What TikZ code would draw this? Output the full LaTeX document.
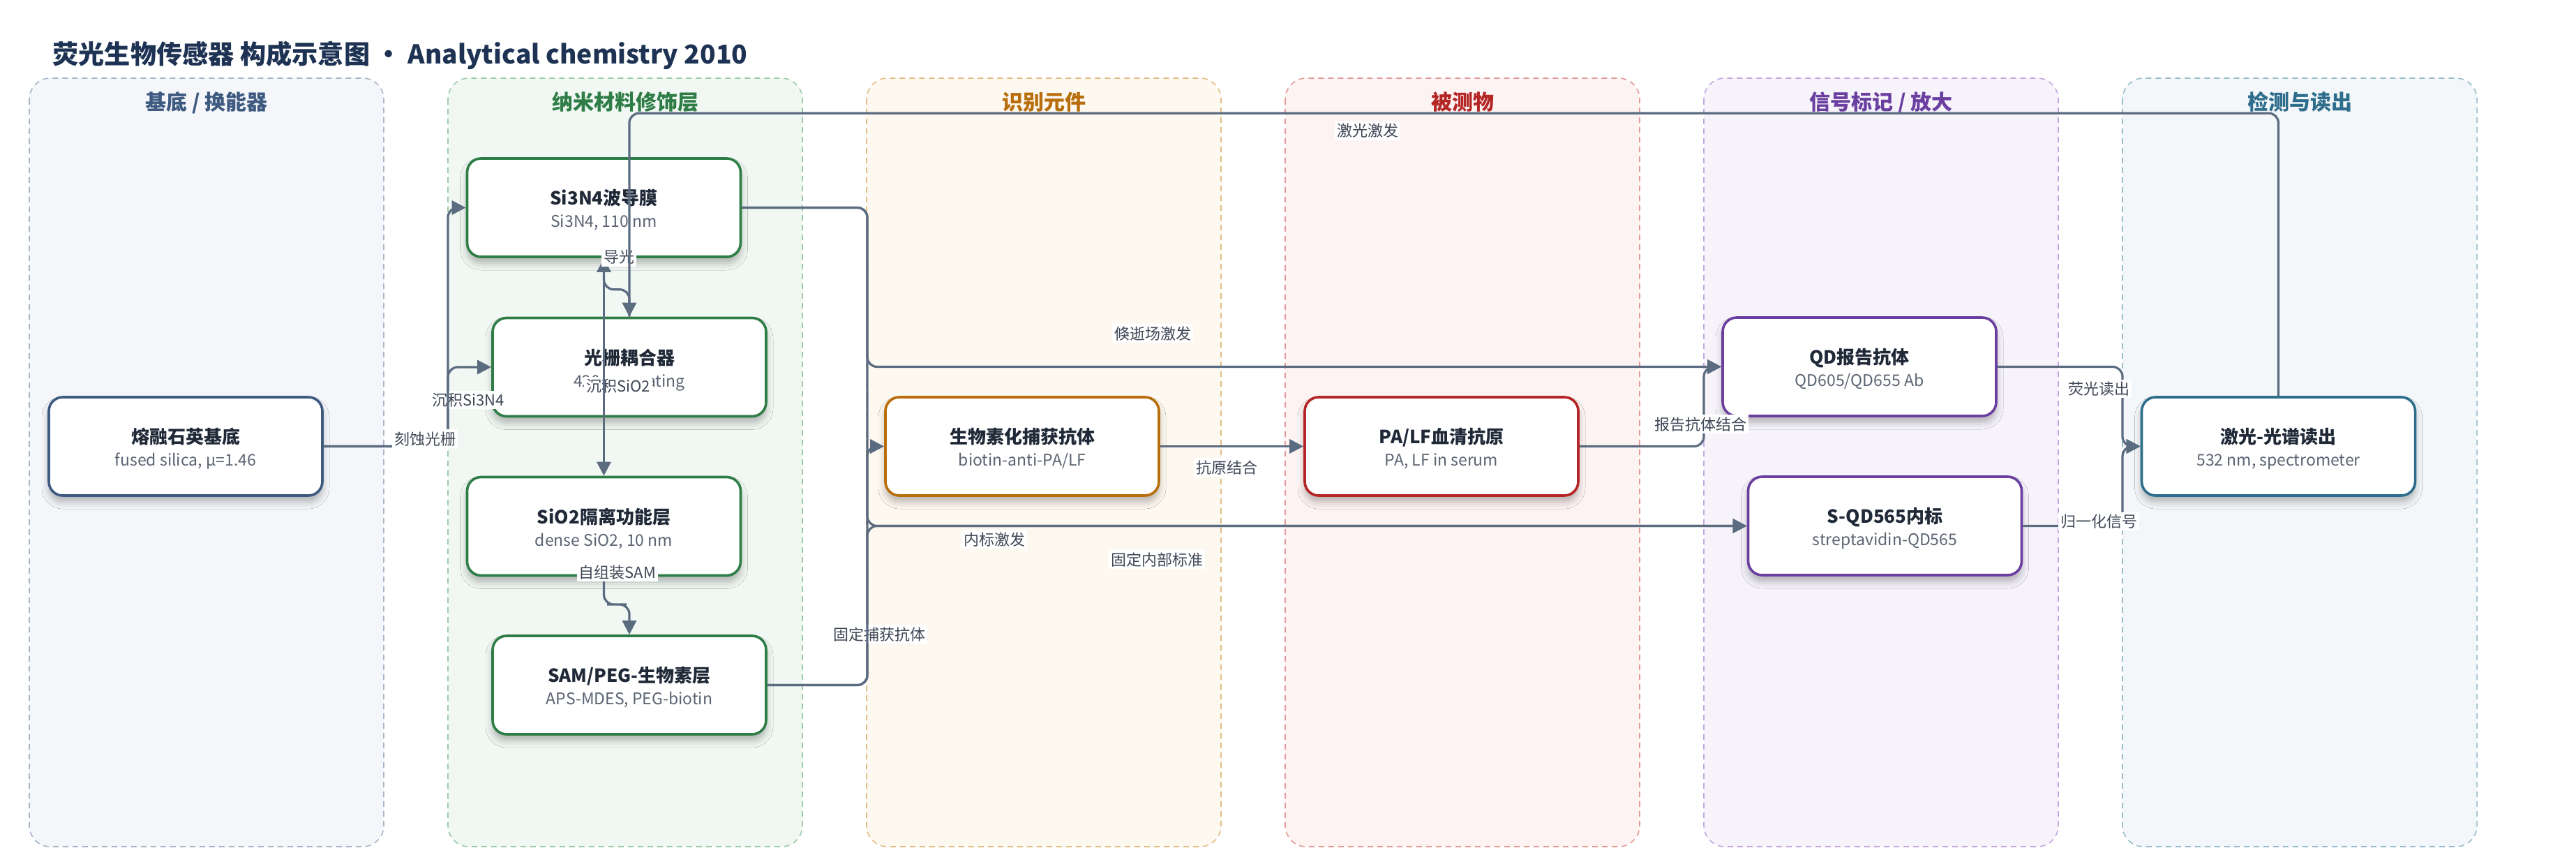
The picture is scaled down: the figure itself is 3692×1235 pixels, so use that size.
\documentclass[tikz,border=0pt]{standalone}
\usepackage{fontspec}
\setmainfont{Noto Sans CJK SC}
\usetikzlibrary{arrows.meta,shadows.blur}
\definecolor{edgecol}{HTML}{5B6B80}
\definecolor{titlecol}{HTML}{1F2937}
\definecolor{subcol}{HTML}{5B6472}
\definecolor{labcol}{HTML}{3F4856}
\definecolor{maintitle}{HTML}{1E3354}
\definecolor{l1f}{HTML}{F4F6FA}\definecolor{l1d}{HTML}{A8B5C8}\definecolor{l1h}{HTML}{3E5A80}
\definecolor{l2f}{HTML}{F1F8F3}\definecolor{l2d}{HTML}{9CCBAA}\definecolor{l2h}{HTML}{2E7D46}
\definecolor{l3f}{HTML}{FDF8F0}\definecolor{l3d}{HTML}{E3BD84}\definecolor{l3h}{HTML}{B86E0A}
\definecolor{l4f}{HTML}{FDF3F2}\definecolor{l4d}{HTML}{E39A96}\definecolor{l4h}{HTML}{B42525}
\definecolor{l5f}{HTML}{F6F3FB}\definecolor{l5d}{HTML}{C3A8E0}\definecolor{l5h}{HTML}{6B3FA0}
\definecolor{l6f}{HTML}{F3F7F9}\definecolor{l6d}{HTML}{98BCCB}\definecolor{l6h}{HTML}{2E6E8C}
\tikzset{
  lane/.style={rounded corners=15pt, dash pattern=on 4pt off 3pt, line width=0.8pt},
  lanehead/.style={font=\fontsize{15}{18}\selectfont\bfseries, anchor=base, inner sep=0pt},
  box/.style={rounded corners=10pt, fill=white, line width=1.8pt, minimum width=196pt,
    minimum height=70.5pt, inner sep=0pt,
    blur shadow={shadow xshift=0pt, shadow yshift=-4.5pt, shadow blur radius=5pt, shadow opacity=28}},
  btitle/.style={font=\fontsize{13}{15}\selectfont\bfseries, text=titlecol, anchor=base, inner sep=0pt},
  bsub/.style={font=\fontsize{11.5}{14}\selectfont, text=subcol, anchor=base, inner sep=0pt},
  conn/.style={draw=edgecol, line width=1.6pt, rounded corners=7pt, -{Triangle[length=10pt,width=10pt]}},
  elabel/.style={font=\fontsize{11}{13}\selectfont, text=labcol, fill=white, inner sep=1.5pt, anchor=base},
}
\newcommand\bxnode[6]{%
  \node[box, draw=#4] (#1) at (#2,#3) {};
  \node[btitle] (#1-t) at (#2,#3-4) {#5};
  \node[bsub] (#1-s) at (#2,#3+28) {#6};
}
\begin{document}
\begin{tikzpicture}[x=0.5pt,y=-0.5pt]
\useasboundingbox (0,0) rectangle (3692,1235);
\fill[white] (0,0) rectangle (3692,1235);
% lanes
\draw[lane, draw=l1d, fill=l1f] (42,112) rectangle (550,1213);
\draw[lane, draw=l2d, fill=l2f] (642,112) rectangle (1150,1213);
\draw[lane, draw=l3d, fill=l3f] (1242,112) rectangle (1750,1213);
\draw[lane, draw=l4d, fill=l4f] (1842,112) rectangle (2350,1213);
\draw[lane, draw=l5d, fill=l5f] (2442,112) rectangle (2950,1213);
\draw[lane, draw=l6d, fill=l6f] (3042,112) rectangle (3550,1213);
\node[lanehead, text=l1h] (h1) at (296,158) {基底 / 换能器};
\node[lanehead, text=l2h] (h2) at (896,158) {纳米材料修饰层};
\node[lanehead, text=l3h] (h3) at (1496,158) {识别元件};
\node[lanehead, text=l4h] (h4) at (2096,158) {被测物};
\node[lanehead, text=l5h] (h5) at (2696,158) {信号标记 / 放大};
\node[lanehead, text=l6h] (h6) at (3296,158) {检测与读出};
% title
\node[anchor=base west, inner sep=0pt, font=\fontsize{18.6}{23}\selectfont\bfseries, text=maintitle] (title) at (75,92) {荧光生物传感器 构成示意图 · Analytical chemistry 2010};
% boxes
\bxnode{sub}{266}{639.5}{l1h}{熔融石英基底}{fused silica, µ=1.46}
\bxnode{si}{865.5}{297.5}{l2h}{Si3N4波导膜}{Si3N4, 110 nm}
\bxnode{gr}{902}{526}{l2h}{光栅耦合器}{420 nm grating}
\bxnode{sio}{865.5}{754}{l2h}{SiO2隔离功能层}{dense SiO2, 10 nm}
\bxnode{sam}{902}{981.5}{l2h}{SAM/PEG-生物素层}{APS-MDES, PEG-biotin}
\bxnode{cap}{1465}{639.5}{l3h}{生物素化捕获抗体}{biotin-anti-PA/LF}
\bxnode{pa}{2066}{639.5}{l4h}{PA/LF血清抗原}{PA, LF in serum}
\bxnode{qd}{2665}{525.5}{l5h}{QD报告抗体}{QD605/QD655 Ab}
\bxnode{sqd}{2701.5}{753.5}{l5h}{S-QD565内标}{streptavidin-QD565}
\bxnode{ro}{3265.5}{639.5}{l6h}{激光-光谱读出}{532 nm, spectrometer}
% connectors
\draw[conn] (sub.east) -| (642,297.5) -- (si.west);
\node[elabel] (e1) at (671,581) {沉积Si3N4};
\draw[conn] (sub.east) -| (642,526) -- (gr.west);
\node[elabel] (e2) at (609,637) {刻蚀光栅};
\node[elabel] (e3) at (886,561) {沉积SiO2};
\draw[conn] (si.south) -- (sio.north);
\draw[conn] (gr.north) -- ++(0,-39) -| (si.south);
\node[elabel] (e4) at (887,377) {导光};
\draw[conn] (sio.south) |- (884,866) -| (sam.north);
\node[elabel] (e5) at (885,828) {自组装SAM};
\draw[conn] (sam.east) -| (1243,639.5) -- (cap.west);
\node[elabel] (e6) at (1260,917) {固定捕获抗体};
\draw[conn] (sam.east) -| (1243,753.5) -- (sqd.west);
\node[elabel] (e7) at (1658,810) {固定内部标准};
\draw[conn] (si.east) -| (1243,525.5) -- (qd.west);
\node[elabel] (e8) at (1652,486) {倏逝场激发};
\draw[conn] (si.east) -| (1243,753.5) -- (sqd.west);
\node[elabel] (e9) at (1425,781) {内标激发};
\draw[conn] (cap.east) -- (pa.west);
\node[elabel] (e10) at (1758,678) {抗原结合};
\draw[conn] (pa.east) -| (2442,525.5) -- (qd.west);
\node[elabel] (e11) at (2437,616) {报告抗体结合};
\draw[conn] (qd.east) -| (3042,639.5) -- (ro.west);
\node[elabel] (e12) at (3008,565) {荧光读出};
\draw[conn] (sqd.east) -| (3042,639.5) -- (ro.west);
\node[elabel] (e13) at (3008,755) {归一化信号};
\draw[conn] (ro.north) -- ++(0,-405) -| (gr.north);
\node[elabel] (e14) at (1960,196) {激光激发};
\end{tikzpicture}
\end{document}
